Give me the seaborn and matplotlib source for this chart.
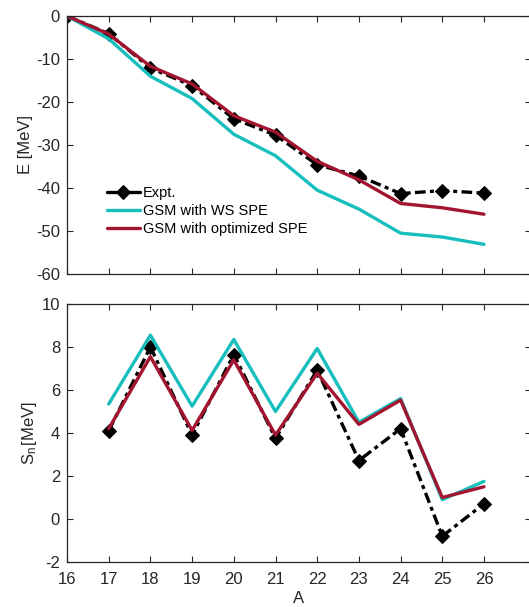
import numpy as np
import pandas as pd
import matplotlib
matplotlib.use("Agg")
import matplotlib.pyplot as plt
import seaborn as sns

# ---- data ----
A_E = [16, 17, 18, 19, 20, 21, 22, 23, 24, 25, 26]
E_expt = [0.0, -4.1, -12.1, -16.2, -23.9, -27.7, -34.6, -37.2, -41.3, -40.6, -41.2]
E_ws = [0.0, -5.3, -14.0, -19.2, -27.5, -32.5, -40.5, -44.9, -50.5, -51.4, -53.1]
E_opt = [0.0, -4.2, -11.7, -15.8, -23.2, -27.0, -33.8, -38.1, -43.6, -44.6, -46.1]

A_S = [17, 18, 19, 20, 21, 22, 23, 24, 25, 26]
S_expt = [4.1, 8.0, 3.9, 7.65, 3.75, 6.93, 2.72, 4.2, -0.8, 0.71]
S_ws = [5.35, 8.55, 5.25, 8.35, 5.0, 7.93, 4.5, 5.6, 0.9, 1.75]
S_opt = [4.2, 7.55, 4.12, 7.4, 3.9, 6.78, 4.4, 5.53, 1.0, 1.5]

labels = ["Expt.", "GSM with WS SPE", "GSM with optimized SPE"]
x_ticks = list(range(16, 27))

sns.set_style("ticks")
plt.rcParams['font.family'] = ['Liberation Sans', 'DejaVu Sans']
plt.rcParams['mathtext.fontset'] = 'custom'
plt.rcParams['mathtext.rm'] = 'Liberation Sans'
plt.rcParams['mathtext.it'] = 'Liberation Sans'
plt.rcParams['axes.unicode_minus'] = False

axcol = '#262626'
c_expt = 'black'
c_ws = '#17BEBE'
c_opt = '#A2142F'
lw = 2.4
fs = 12

fig = plt.figure(figsize=(5.29, 6.07), dpi=100)
W, H = 529.0, 607.0
left = 67 / W
width = (531 - 67) / W
ax1 = fig.add_axes([left, 1 - 274 / H, width, 258 / H])
ax2 = fig.add_axes([left, 1 - 562 / H, width, 258 / H])

dfE = pd.DataFrame({"A": A_E, "expt": E_expt, "ws": E_ws, "opt": E_opt})
dfS = pd.DataFrame({"A": A_S, "expt": S_expt, "ws": S_ws, "opt": S_opt})

for ax, df in [(ax1, dfE), (ax2, dfS)]:
    sns.lineplot(data=df, x="A", y="expt", ax=ax, color=c_expt, lw=lw,
                 marker='D', markersize=7.5, markeredgecolor='black',
                 label=labels[0], dashes=False)
    ax.lines[-1].set_dashes([3.2, 1.3, 1.2, 1.3])
    sns.lineplot(data=df, x="A", y="ws", ax=ax, color=c_ws, lw=lw, label=labels[1])
    sns.lineplot(data=df, x="A", y="opt", ax=ax, color=c_opt, lw=lw, label=labels[2])

xmax = 16 + (531 - 67) / 41.7
for ax in (ax1, ax2):
    ax.set_xlim(16, xmax)
    ax.set_xticks(x_ticks)
    ax.tick_params(direction='in', top=True, right=True, length=4, width=0.8,
                   colors=axcol, labelsize=fs, labelcolor=axcol, pad=5)
    for s in ax.spines.values():
        s.set_color(axcol)
        s.set_linewidth(0.9)
    ax.set_xlabel("")

ax1.set_ylim(-60, 0)
ax1.set_yticks([0, -10, -20, -30, -40, -50, -60])
ax1.set_xticklabels([])
ax1.set_ylabel("E [MeV]", fontsize=fs, color=axcol, labelpad=2)

ax2.set_ylim(-2, 10)
ax2.set_yticks([-2, 0, 2, 4, 6, 8, 10])
ax2.set_ylabel("S$_{\\mathregular{n}\\,}$[MeV]", fontsize=fs, color=axcol, labelpad=2)
ax2.set_xlabel("A", fontsize=fs, color=axcol, labelpad=3)
ax2.tick_params(axis='x', pad=7)
ax2.get_legend().remove()

leg = ax1.legend(loc='upper left', bbox_to_anchor=(0.073, 0.365), frameon=False,
                 fontsize=10.5, handlelength=2.3, handletextpad=0.2,
                 labelspacing=0.3, borderaxespad=0)
for t in leg.get_texts():
    t.set_color('black')
for l in leg.get_lines():
    l.set_linestyle('-')

fig.savefig("out.png", dpi=100)
